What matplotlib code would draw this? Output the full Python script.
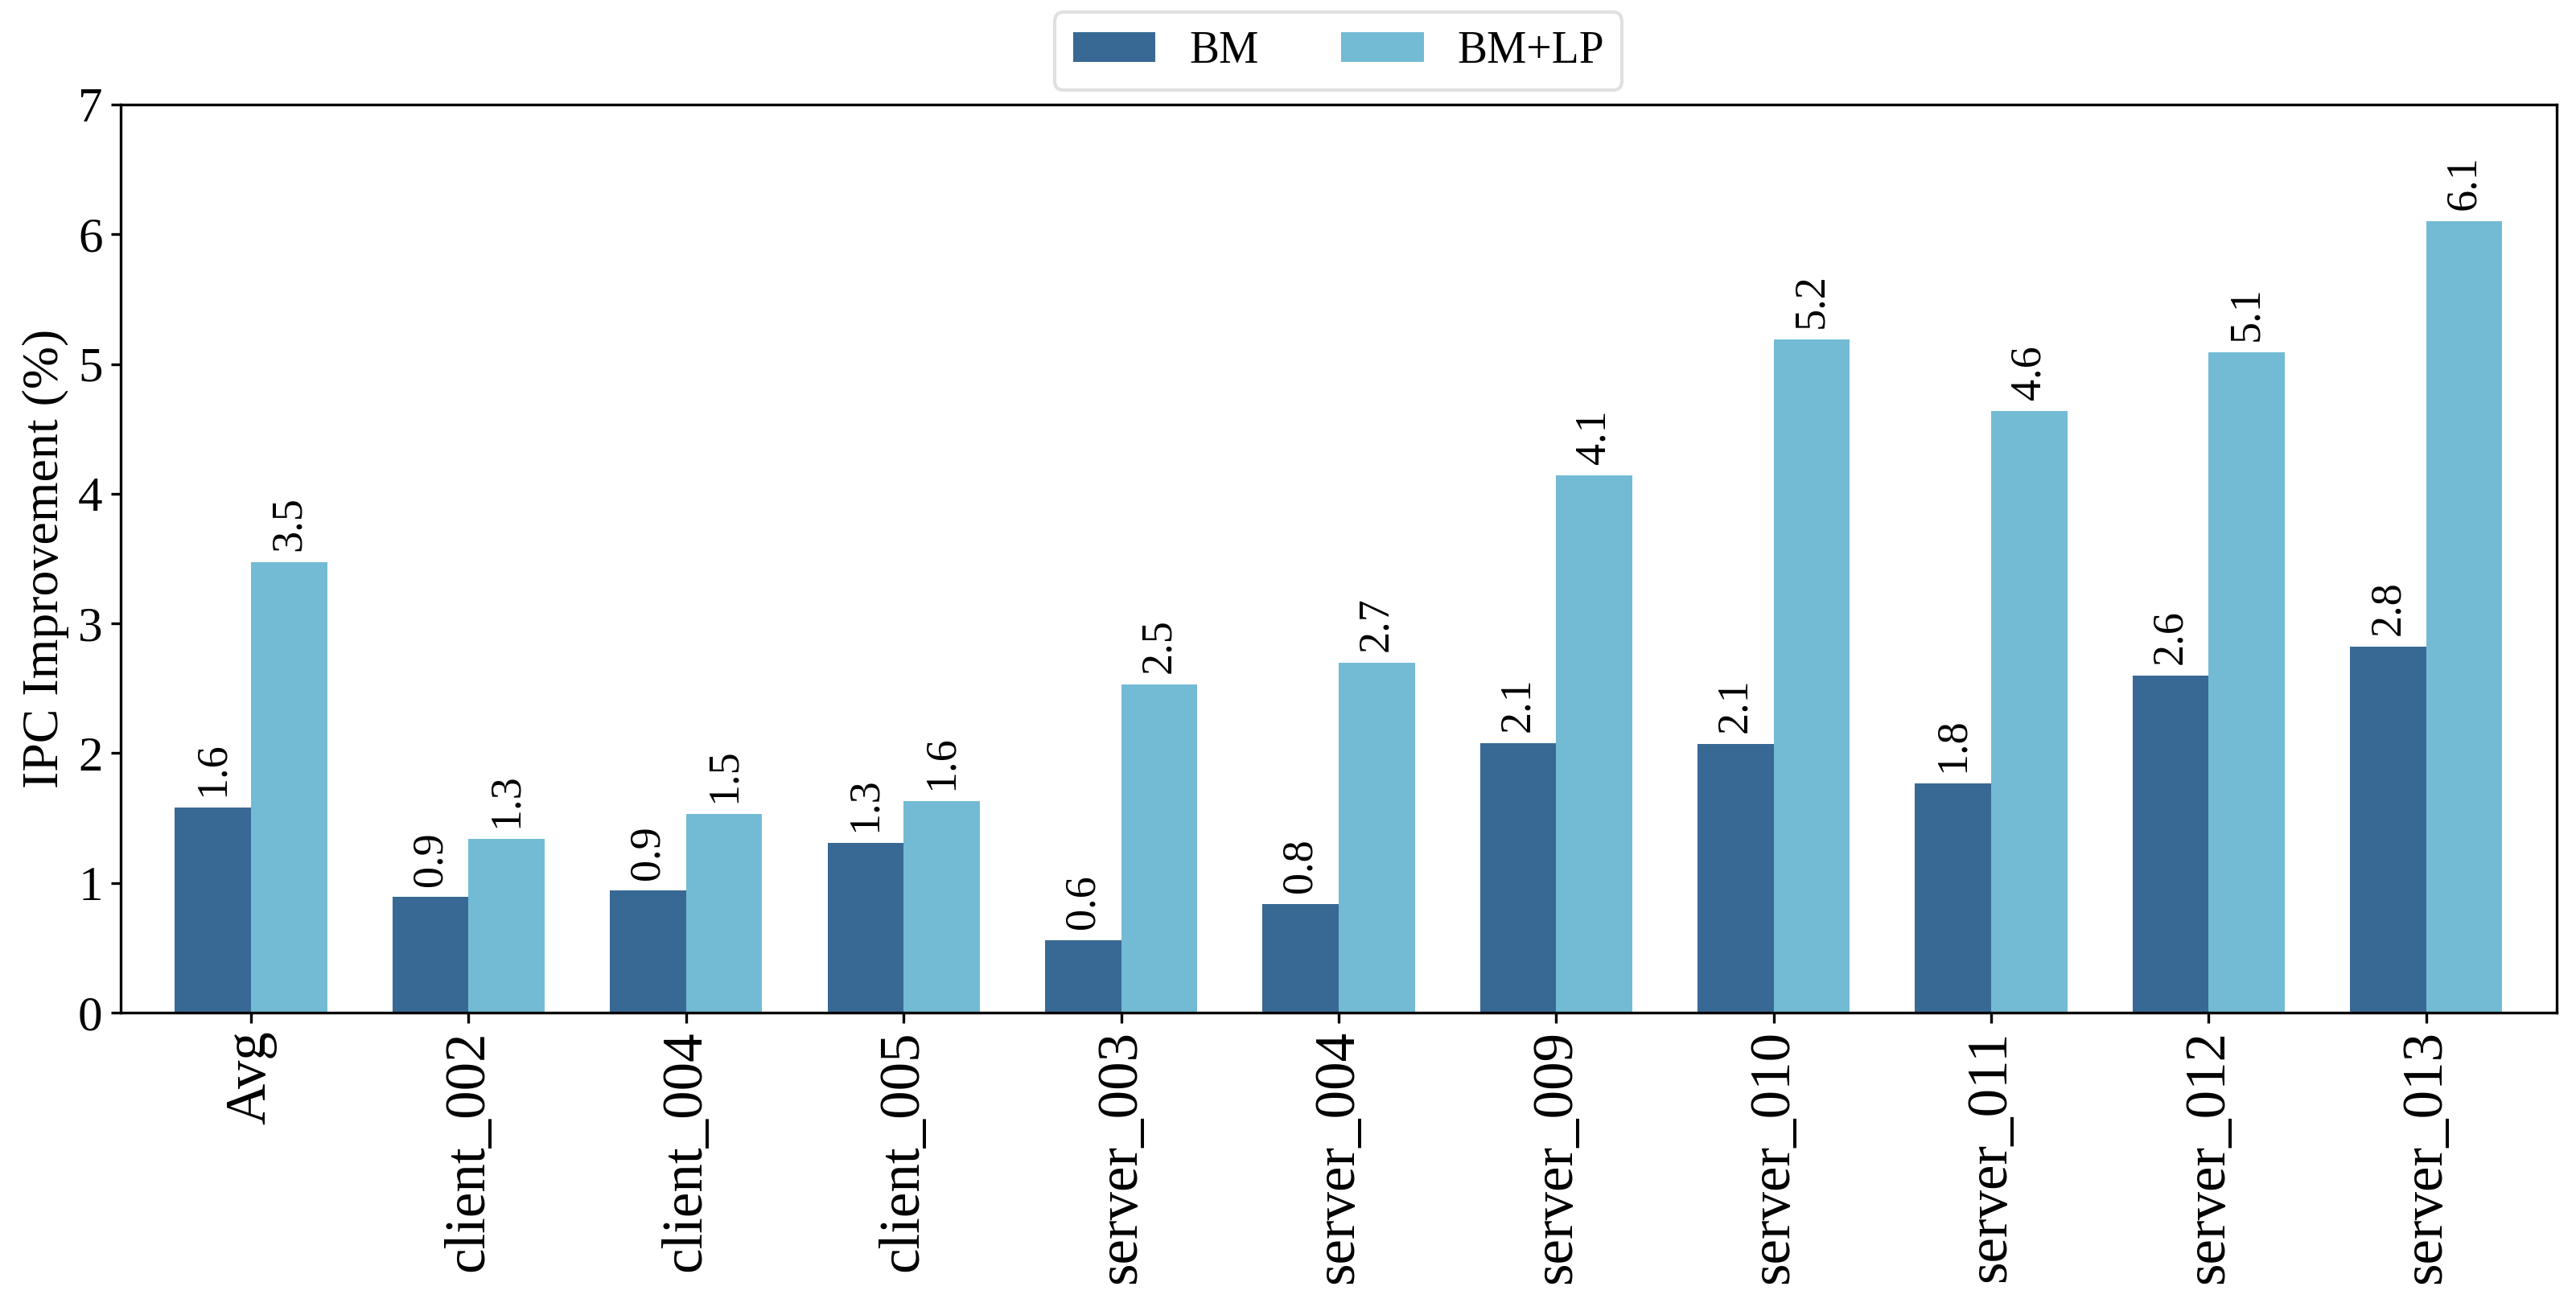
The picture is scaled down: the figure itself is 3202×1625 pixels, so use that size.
import matplotlib.pyplot as plt
import numpy as np

plt.rcParams['font.family'] = ['Liberation Serif', 'DejaVu Serif']

categories = ["Avg", "client_002", "client_004", "client_005", "server_003",
              "server_004", "server_009", "server_010", "server_011",
              "server_012", "server_013"]
bm = [1.58, 0.89, 0.94, 1.31, 0.56, 0.84, 2.08, 2.07, 1.77, 2.60, 2.82]
bm_lp = [3.47, 1.34, 1.53, 1.63, 2.53, 2.70, 4.14, 5.19, 4.64, 5.09, 6.10]

series = [("BM", bm, "#386994"), ("BM+LP", bm_lp, "#73BBD4")]

fig, ax = plt.subplots(figsize=(16.01, 8.125), dpi=200)
fig.subplots_adjust(left=0.0468, right=0.9925, top=0.92, bottom=0.2252)

x = np.arange(len(categories))
width = 0.35
for k, (name, vals, color) in enumerate(series):
    pos = x + (k - 0.5) * width
    bars = ax.bar(pos, vals, width, color=color, label=name)
    # value labels above each bar
    for b, v in zip(bars, vals):
        ax.annotate("%.1f" % v, (b.get_x() + b.get_width() / 2, v),
                    xytext=(0, 5), textcoords="offset points",
                    ha="center", va="bottom", rotation=90, fontsize=19.5)

ax.set_xlim(-0.6, len(categories) - 0.4)
ax.set_ylim(0, 7)
ax.set_xticks(x)
ax.set_xticklabels(categories, rotation=90, fontsize=25.5)
ax.set_yticks(range(8))
ax.tick_params(axis="y", labelsize=22, width=1.2, length=4.5)
ax.tick_params(axis="x", width=1.2, length=4.5)
ax.set_ylabel("IPC Improvement (%)", fontsize=23)
for s in ax.spines.values():
    s.set_linewidth(1.2)

leg = ax.legend(loc="lower center", bbox_to_anchor=(0.5, 1.016), ncol=2,
                borderaxespad=0, fontsize=20, handlelength=1.85,
                handleheight=0.65, columnspacing=1.85, handletextpad=0.75,
                fancybox=True, borderpad=0.4)
leg.get_frame().set_edgecolor("#d9d9d9")
leg.get_frame().set_linewidth(1.5)

fig.savefig("out.png", dpi=200)
